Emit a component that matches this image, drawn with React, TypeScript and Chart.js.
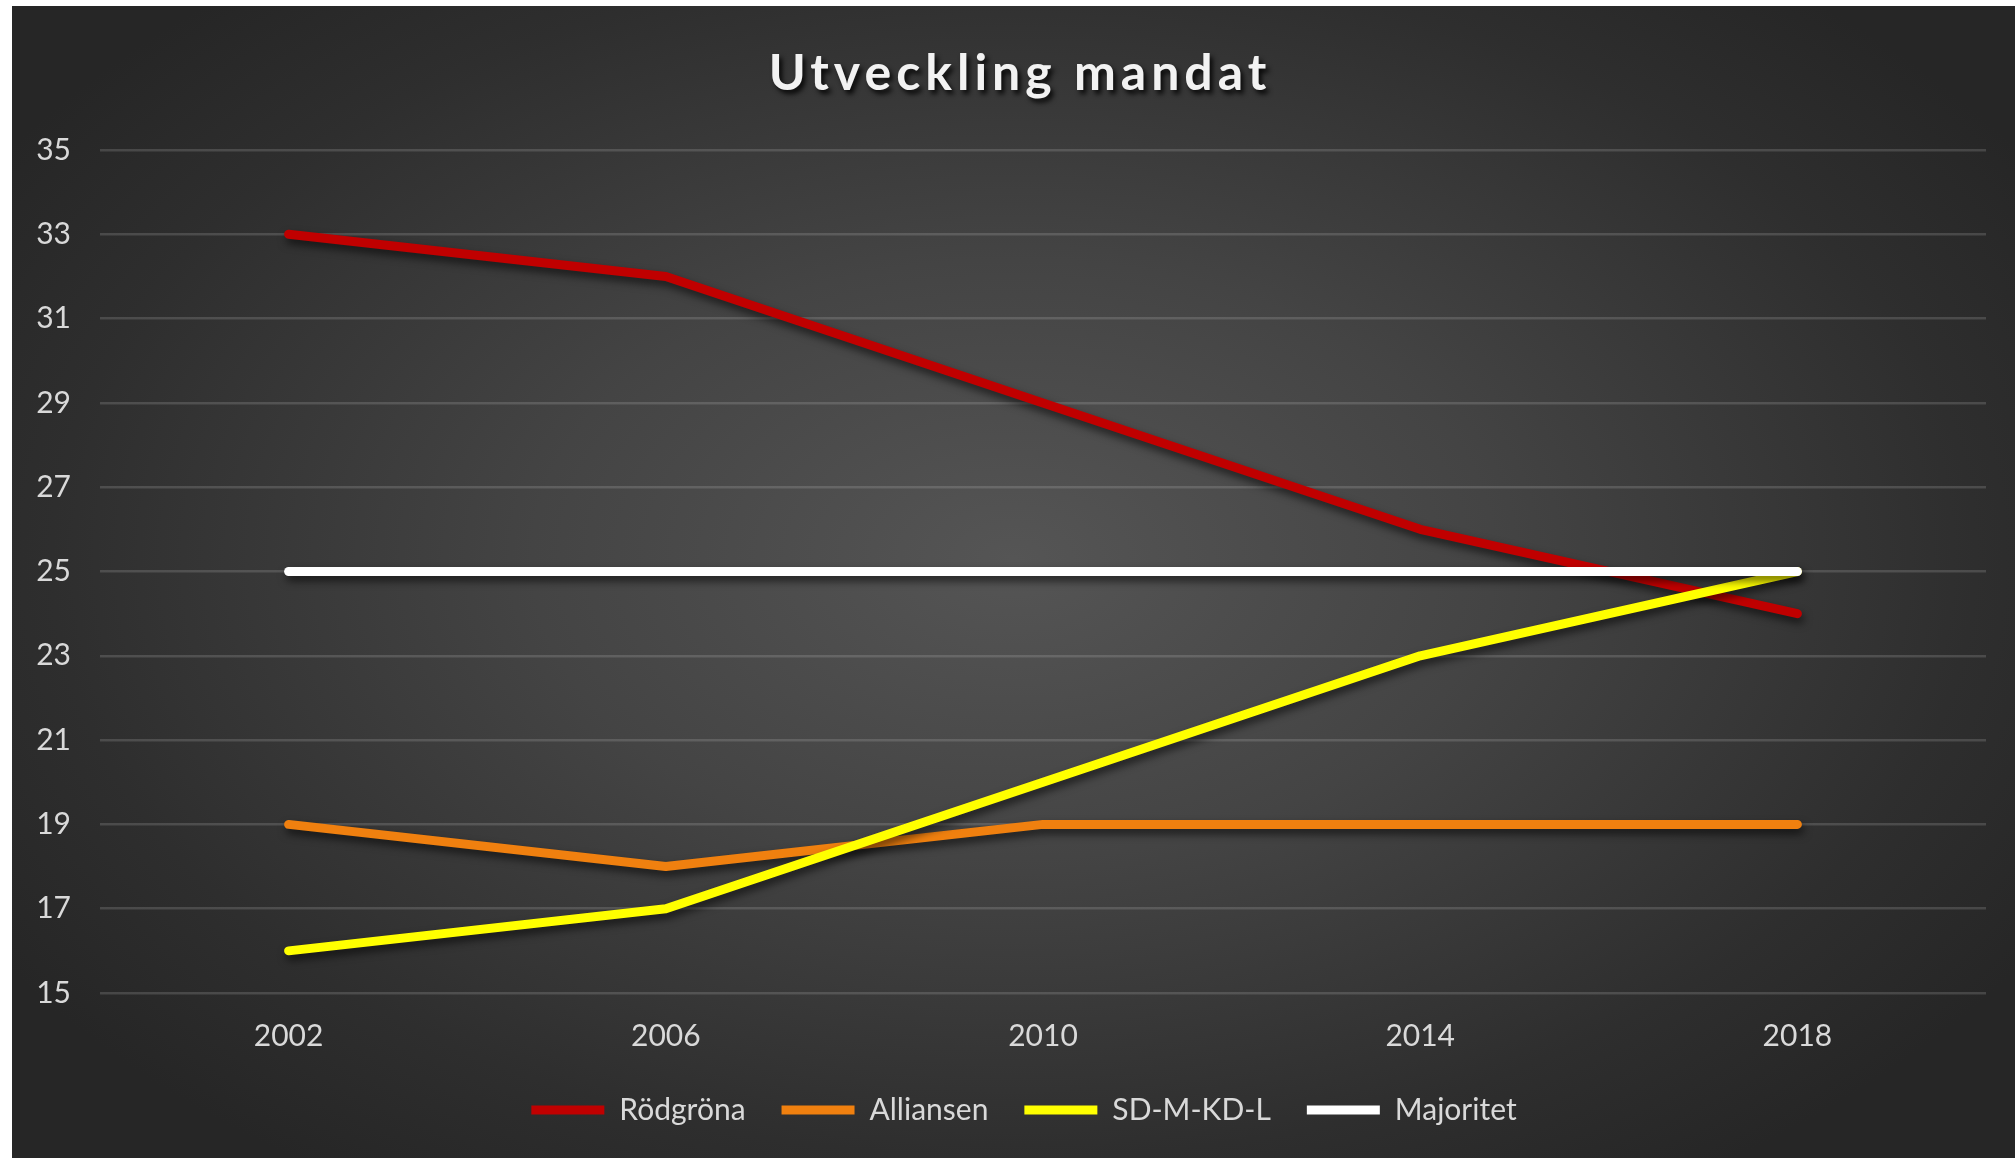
import React, { useEffect, useRef } from 'react';
import { Chart, registerables } from 'chart.js';

Chart.register(...registerables);

const years = ['2002', '2006', '2010', '2014', '2018'];
const rodgrona = [33, 32, 29, 26, 24];
const alliansen = [19, 18, 19, 19, 19];
const sdmkdl = [16, 17, 20, 23, 25];
const majoritet = [25, 25, 25, 25, 25];
const seriesNames = ['Rödgröna', 'Alliansen', 'SD-M-KD-L', 'Majoritet'];
const seriesColors = ['#C00000', '#F0800F', '#FFFF00', '#FFFFFF'];
const yMin = 15;
const yMax = 35;
const yStep = 2;
const chartTitle = 'Utveckling mandat';

const FONT = 'Lato, "Open Sans", "DejaVu Sans", sans-serif';

const lineShadow = {
  id: 'lineShadow',
  beforeDatasetDraw(chart: any) {
    const ctx = chart.ctx;
    ctx.save();
    ctx.shadowColor = 'rgba(0,0,0,0.6)';
    ctx.shadowBlur = 8;
    ctx.shadowOffsetX = 2;
    ctx.shadowOffsetY = 5;
  },
  afterDatasetDraw(chart: any) {
    chart.ctx.restore();
  },
};

const legendShift = {
  id: 'legendShift',
  afterLayout(chart: any) {
    const l = chart.legend;
    if (l) {
      l.left += 25;
      l.right += 25;
    }
  },
};

const titleDraw = {
  id: 'titleDraw',
  afterDraw(chart: any) {
    const ctx = chart.ctx;
    ctx.save();
    ctx.font = `bold 50px ${FONT}`;
    try { (ctx as any).letterSpacing = '5px'; } catch (e) {}
    ctx.fillStyle = '#F2F2F2';
    ctx.textAlign = 'center';
    ctx.textBaseline = 'middle';
    ctx.shadowColor = 'rgba(0,0,0,0.85)';
    ctx.shadowBlur = 5;
    ctx.shadowOffsetX = 3;
    ctx.shadowOffsetY = 4;
    ctx.fillText(chartTitle, 1008, 68);
    ctx.restore();
  },
};

export default function App() {
  const ref = useRef<HTMLCanvasElement | null>(null);

  useEffect(() => {
    if (!ref.current) return;
    const data = [rodgrona, alliansen, sdmkdl, majoritet];
    const chart = new Chart(ref.current, {
      type: 'line',
      data: {
        labels: years,
        datasets: data.map((d, i) => ({
          label: seriesNames[i],
          data: d,
          borderColor: seriesColors[i],
          backgroundColor: seriesColors[i],
          borderWidth: 9,
          borderCapStyle: 'round',
          borderJoinStyle: 'round',
          pointRadius: 0,
          pointHoverRadius: 0,
          tension: 0,
          fill: false,
          order: 4 - i,
        })),
      },
      options: {
        responsive: false,
        animation: false,
        layout: { padding: { top: 144, left: 0, right: 29, bottom: 23 } },
        plugins: {
          title: { display: false },
          tooltip: { enabled: false },
          legend: {
            display: true,
            position: 'bottom',
            labels: {
              usePointStyle: true,
              pointStyle: 'line',
              pointStyleWidth: 73,
              padding: 36,
              color: '#D9D9D9',
              font: { family: FONT, size: 30 },
              sort: (a: any, b: any) => a.datasetIndex - b.datasetIndex,
            },
          },
        },
        scales: {
          x: {
            offset: true,
            grid: { display: false, drawTicks: false },
            border: { display: false },
            ticks: {
              color: '#D9D9D9',
              font: { family: FONT, size: 30 },
              padding: 25,
            },
            afterFit: (s: any) => { s.height = 66; },
          },
          y: {
            min: yMin,
            max: yMax,
            grid: { color: 'rgba(217,217,217,0.18)', lineWidth: 2.5, drawTicks: false },
            border: { display: false },
            ticks: {
              stepSize: yStep,
              color: '#D9D9D9',
              font: { family: FONT, size: 30 },
              padding: 29,
            },
            afterFit: (s: any) => { s.width = 88; },
          },
        },
      },
      plugins: [lineShadow, legendShift, titleDraw],
    } as any);
    return () => chart.destroy();
  }, []);

  return (
    <div style={{ position: 'fixed', left: 0, top: 0, width: 2015, height: 1158, background: '#FFFFFF', overflow: 'hidden' }}>
      <div
        style={{
          position: 'absolute',
          left: 12,
          top: 6,
          width: 2003,
          height: 1152,
          background: 'radial-gradient(ellipse 60% 65% at 50% 48%, #555555 0%, #444444 40%, #2e2e2e 80%, #262626 100%)',
        }}
      >
        <canvas ref={ref} width={2003} height={1152} style={{ display: 'block', width: 2003, height: 1152 }} />
      </div>
    </div>
  );
}
